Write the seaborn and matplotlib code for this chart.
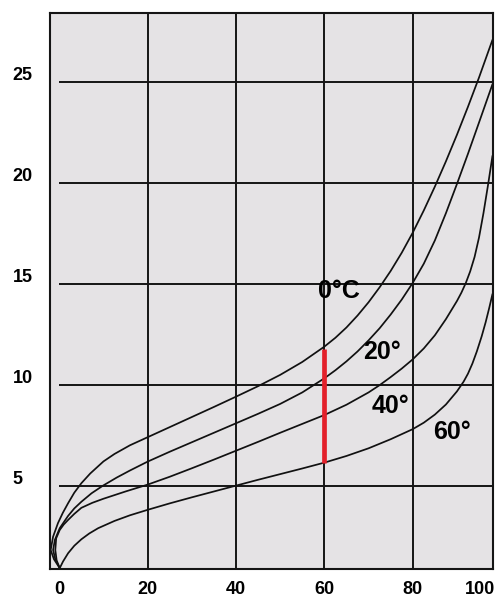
import matplotlib
matplotlib.use('Agg')
import matplotlib.pyplot as plt
import matplotlib.transforms as mtransforms
import seaborn as sns
import pandas as pd

sns.set_style('white')
plt.rcParams['font.family'] = ['Liberation Sans', 'DejaVu Sans']
plt.rcParams['text.color'] = 'black'
plt.rcParams['xtick.color'] = 'black'
plt.rcParams['ytick.color'] = 'black'

# curves (x, y); they loop a little left of 0 near the bottom
x_0c = [0.1, -1.2, -1.95, -1.4, -0.3, 0.8, 2.0, 3.4, 5.0, 7, 10, 12.5, 16, 20, 25, 30, 35, 40, 45, 50, 55, 60,
        62.5, 65, 67.5, 70, 72.5, 75, 77.5, 80, 82.5, 85, 87.5, 90, 92.5, 95, 98.05]
y_0c = [0.91, 1.35, 1.81, 2.47, 3.14, 3.65, 4.13, 4.65, 5.12, 5.6, 6.2, 6.57, 7.0, 7.40, 7.9, 8.4, 8.9, 9.41, 9.93, 10.49, 11.13, 11.89,
        12.33, 12.84, 13.43, 14.09, 14.83, 15.64, 16.54, 17.54, 18.64, 19.82, 21.07, 22.39, 23.78, 25.23, 27.1]

x_20c = [0.1, -0.9, -1.4, -1.0, 0.1, 1.0, 2.0, 3.4, 5.0, 7.3, 9.9, 13, 16, 20, 25, 30, 35, 40, 45, 50, 55, 60,
         62.5, 65, 67.5, 70, 72.5, 75, 77.5, 80, 82.5, 85, 87.5, 90, 92.5, 95, 98.05]
y_20c = [0.91, 1.35, 1.81, 2.31, 2.89, 3.18, 3.5, 3.87, 4.2, 4.62, 5.0, 5.4, 5.75, 6.19, 6.68, 7.15, 7.62, 8.09, 8.56, 9.05, 9.62, 10.32,
         10.72, 11.16, 11.65, 12.2, 12.8, 13.48, 14.22, 15.05, 16.0, 17.15, 18.5, 19.95, 21.45, 23.0, 24.9]

x_40c = [0.1, -0.6, -0.9, -0.7, 0.1, 1.0, 2.0, 3.4, 5.0, 7.5, 10, 12.5, 15, 17.5, 20, 25, 30, 35, 40, 45, 50, 55, 60,
         65, 70, 72.5, 75, 77.5, 80, 82.5, 85, 87.5, 90, 91, 92, 93, 94, 95, 96, 97, 98.05]
y_40c = [0.91, 1.3, 1.81, 2.39, 2.80, 3.07, 3.30, 3.6, 3.9, 4.15, 4.35, 4.53, 4.71, 4.88, 5.05, 5.44, 5.86, 6.29, 6.73, 7.17, 7.62, 8.06, 8.50,
         9.01, 9.62, 9.98, 10.38, 10.8, 11.26, 11.8, 12.45, 13.25, 14.15, 14.56, 15.04, 15.62, 16.34, 17.3, 18.5, 19.85, 21.35]

x_60c = [0.1, 0.85, 2.0, 3.4, 5.0, 6.8, 8.8, 12.5, 16, 20, 25, 30, 35, 40, 45, 50, 55, 60,
         65, 70, 75, 80, 82.5, 85, 87.5, 90, 91.5, 92.5, 93.5, 94.5, 95.6, 96.5, 97.3, 98.05]
y_60c = [0.91, 1.24, 1.65, 2.02, 2.34, 2.63, 2.89, 3.25, 3.53, 3.8, 4.12, 4.42, 4.71, 5.0, 5.29, 5.57, 5.85, 6.14,
         6.47, 6.85, 7.3, 7.8, 8.12, 8.52, 9.02, 9.67, 10.15, 10.55, 11.05, 11.65, 12.4, 13.1, 13.8, 14.5]

curve_names = ['0°C', '20°', '40°', '60°']
label_x = [63.3, 73.1, 75.0, 88.9]
label_y = [14.65, 11.6, 8.95, 7.65]

red_x = [60, 60]
red_y = [6.12, 11.76]

x_ticks = [0, 20, 40, 60, 80, 95.2]
x_tick_labels = ['0', '20', '40', '60', '80', '100']
y_ticks = [5, 10, 15, 20, 25]
x_grid = [20, 40, 60, 80]

rows = []
for name, xs, ys in zip(curve_names, [x_0c, x_20c, x_40c, x_60c], [y_0c, y_20c, y_40c, y_60c]):
    for xv, yv in zip(xs, ys):
        rows.append({'curve': name, 'x': xv, 'y': yv})
df = pd.DataFrame(rows)

fig = plt.figure(figsize=(5, 5.97), dpi=100)
ax = fig.add_axes([0.1, 0.047, 0.885, 0.932])
ax.set_facecolor('#e5e3e5')

xmin, xmax = -2.1, 98.05
ymin, ymax = 0.87, 28.45
ax.set_xlim(xmin, xmax)
ax.set_ylim(ymin, ymax)

# grid: vertical lines full height, horizontal from x=0
for xv in x_grid:
    ax.axvline(xv, color='#151515', lw=1.4, zorder=1)
ax.hlines(y_ticks, 0, xmax, color='#151515', lw=1.4, zorder=1)

sns.lineplot(data=df, x='x', y='y', hue='curve', units='curve', estimator=None,
             sort=False, palette=['#111111'] * 4, lw=1.25, legend=False, ax=ax, zorder=2)

ax.plot(red_x, red_y, color='#e3202a', lw=3.4, solid_capstyle='butt', zorder=3)

for name, lx, ly in zip(curve_names, label_x, label_y):
    ax.text(lx, ly, name, fontsize=18, fontweight='bold', color='black',
            ha='center', va='center', zorder=4)

for s in ax.spines.values():
    s.set_visible(True)
    s.set_linewidth(1.5)
    s.set_color('#151515')

ax.set_xticks(x_ticks)
ax.set_xticklabels(x_tick_labels, fontsize=13, fontweight='bold')
ax.set_yticks(y_ticks)
ax.set_yticklabels([str(v) for v in y_ticks], fontsize=13, fontweight='bold')
ax.tick_params(axis='x', length=0, pad=8.5)
ax.tick_params(axis='y', length=0, pad=27)
up = mtransforms.ScaledTranslation(0, 6 / 72, fig.dpi_scale_trans)
for lab in ax.get_yticklabels():
    lab.set_horizontalalignment('left')
    lab.set_transform(lab.get_transform() + up)
ax.set_xlabel('')
ax.set_ylabel('')

fig.savefig('out.png', dpi=100, facecolor='white')
